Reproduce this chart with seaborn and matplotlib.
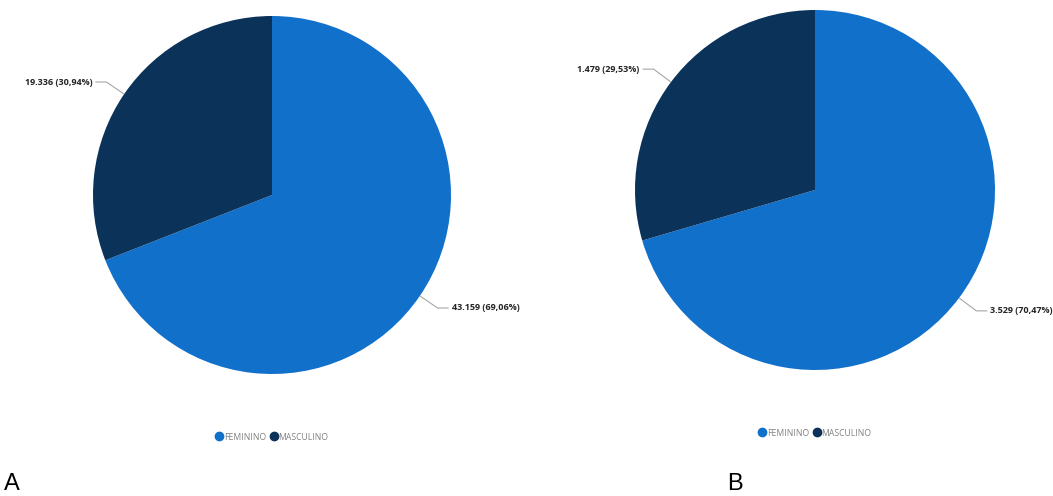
import numpy as np
import matplotlib
matplotlib.use("Agg")
import matplotlib.pyplot as plt
from matplotlib.lines import Line2D
import seaborn as sns

# Gender split for the two groups
categories = ["FEMININO", "MASCULINO"]
values_a = [43159, 19336]
values_b = [3529, 1479]
labels_a = ["43.159 (69,06%)", "19.336 (30,94%)"]
labels_b = ["3.529 (70,47%)", "1.479 (29,53%)"]
panel_letters = ["A", "B"]

sns.set_theme(style="white")
plt.rcParams["font.family"] = ["Open Sans", "DejaVu Sans"]
colors = ["#1170CA", "#0B3259"]

W, H = 1053, 496
fig = plt.figure(figsize=(W / 100, H / 100), dpi=100)


def draw_pie(cx, cy, r, values, labels, legend_y, letter, letter_x):
    ax = fig.add_axes([(cx - r) / W, (H - cy - r) / H, 2 * r / W, 2 * r / H])
    wedges, _ = ax.pie(values, colors=colors, startangle=90, counterclock=False,
                       radius=1.0, wedgeprops=dict(linewidth=0))
    ax.set_xlim(-1, 1)
    ax.set_ylim(-1, 1)
    ax.set_aspect("equal")
    ax.axis("off")
    px = 1.0 / r
    for w, lab in zip(wedges, labels):
        ang = np.deg2rad((w.theta1 + w.theta2) / 2)
        x0, y0 = np.cos(ang), np.sin(ang)
        x1, y1 = 1.12 * x0, 1.12 * y0
        side = 1 if x0 >= 0 else -1
        x2 = x1 + side * 11 * px
        ax.plot([x0, x1, x2], [y0, y1, y1], color="#a6a6a6", lw=0.8,
                clip_on=False, solid_capstyle="butt")
        ax.text(x2 + side * 3 * px, y1, lab, ha="left" if side > 0 else "right",
                va="center", fontsize=6.5, fontweight="bold", color="#252423",
                clip_on=False)
    handles = [Line2D([], [], marker="o", linestyle="", markersize=6,
                      markerfacecolor=c, markeredgecolor=c) for c in colors]
    ly = 1 - (legend_y - (cy - r)) / (2 * r)
    leg = ax.legend(handles, categories, loc="center", bbox_to_anchor=(0.5, ly),
                    ncol=2, frameon=False, fontsize=6.2, handletextpad=0.15,
                    columnspacing=0.5, handlelength=0.8, borderaxespad=0)
    for t in leg.get_texts():
        t.set_color("#808080")
    fig.text(letter_x / W, 1 - 484 / H, letter, fontsize=17, color="black",
             va="center", ha="left", family=["Liberation Sans", "DejaVu Sans"])


draw_pie(272, 195, 179, values_a, labels_a, 437, panel_letters[0], 4)
draw_pie(815, 190, 180, values_b, labels_b, 433, panel_letters[1], 727)

fig.savefig("out.png", dpi=100, facecolor="white")
